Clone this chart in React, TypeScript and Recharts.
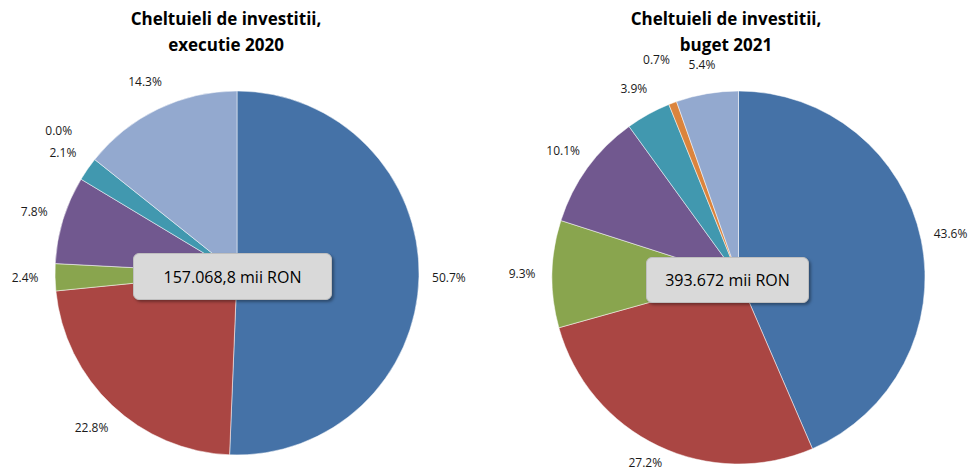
import { PieChart, Pie, Cell } from "recharts";

// categorii (fara legenda in original)
const categories = ["Cat. 1", "Cat. 2", "Cat. 3", "Cat. 4", "Cat. 5", "Cat. 6", "Cat. 7"];
const share2020 = [50.7, 22.8, 2.4, 7.8, 2.1, 0.0, 14.3];
const share2021 = [43.6, 27.2, 9.3, 10.1, 3.9, 0.7, 5.4];
const COLORS = ["#4572A7", "#AA4643", "#89A54E", "#71588F", "#4198AF", "#DB843D", "#93A9CF"];

const title2020 = ["Cheltuieli de investitii,", "executie 2020"];
const title2021 = ["Cheltuieli de investitii,", "buget 2021"];
const total2020 = "157.068,8 mii RON";
const total2021 = "393.672 mii RON";

const data2020 = categories.map((category, i) => ({ category, value: share2020[i] }));
const data2021 = categories.map((category, i) => ({ category, value: share2021[i] }));

const RADIAN = Math.PI / 180;

const renderLabel = (props: any) => {
  const { cx, cy, midAngle, outerRadius, value } = props;
  const r = outerRadius + 30 + (value < 1 ? 16 : 0);
  const x = cx + r * Math.cos(-midAngle * RADIAN);
  // tine eticheta in interiorul imaginii
  const y = Math.min(cy + r * Math.sin(-midAngle * RADIAN), 462);
  return (
    <text
      x={x}
      y={y}
      textAnchor="middle"
      dominantBaseline="central"
      fill="#1a1a1a"
      fontSize={12}
      fontFamily="'Open Sans', sans-serif"
    >
      {Number(value).toFixed(1)}%
    </text>
  );
};

const titleStyle: React.CSSProperties = {
  position: "absolute",
  top: 6,
  width: 300,
  textAlign: "center",
  fontFamily: "'Open Sans', sans-serif",
  fontWeight: 700,
  fontSize: 17,
  lineHeight: "26px",
  color: "#000",
};

const boxStyle: React.CSSProperties = {
  position: "absolute",
  background: "#D9D9D9",
  border: "1px solid #BFBFBF",
  borderRadius: 6,
  boxShadow: "2px 2px 3px rgba(0,0,0,0.35)",
  display: "flex",
  alignItems: "center",
  justifyContent: "center",
  fontFamily: "'Open Sans', sans-serif",
  fontSize: 16,
  color: "#000",
  boxSizing: "border-box",
};

export default function App() {
  return (
    <div style={{ position: "absolute", left: 0, top: 0, width: 968, height: 472, background: "#fff" }}>
      <PieChart width={968} height={472} margin={{ top: 0, right: 0, bottom: 0, left: 0 }}>
        <Pie
          data={data2020}
          dataKey="value"
          nameKey="category"
          cx={237}
          cy={273}
          outerRadius={182}
          startAngle={90}
          endAngle={-270}
          stroke="#fff"
          strokeWidth={0.5}
          label={renderLabel}
          labelLine={false}
          isAnimationActive={false}
        >
          {data2020.map((d, i) => (
            <Cell key={d.category} fill={COLORS[i % COLORS.length]} />
          ))}
        </Pie>
        <Pie
          data={data2021}
          dataKey="value"
          nameKey="category"
          cx={738.5}
          cy={277.5}
          outerRadius={186.5}
          startAngle={90}
          endAngle={-270}
          stroke="#fff"
          strokeWidth={0.5}
          label={renderLabel}
          labelLine={false}
          isAnimationActive={false}
        >
          {data2021.map((d, i) => (
            <Cell key={d.category} fill={COLORS[i % COLORS.length]} />
          ))}
        </Pie>
      </PieChart>

      <div style={{ ...titleStyle, left: 226 - 150 }}>
        {title2020.map((t) => (
          <div key={t}>{t}</div>
        ))}
      </div>
      <div style={{ ...titleStyle, left: 726 - 150 }}>
        {title2021.map((t) => (
          <div key={t}>{t}</div>
        ))}
      </div>

      <div style={{ ...boxStyle, left: 133, top: 253, width: 199, height: 47 }}>{total2020}</div>
      <div style={{ ...boxStyle, left: 646, top: 257, width: 163, height: 46 }}>{total2021}</div>
    </div>
  );
}
